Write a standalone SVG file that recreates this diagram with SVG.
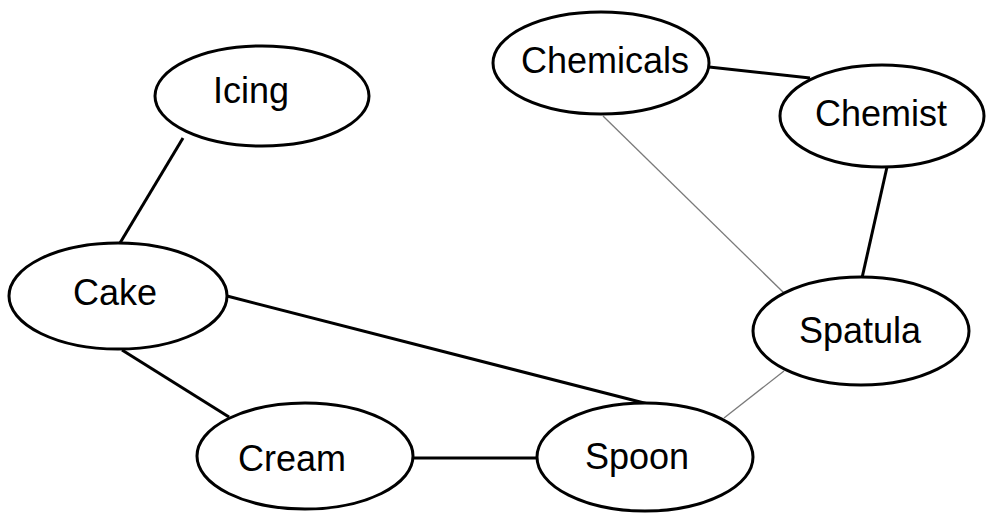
<svg xmlns="http://www.w3.org/2000/svg" width="987" height="513" viewBox="0 0 987 513">
  <style>
    .node ellipse { fill: #ffffff; stroke: #000000; stroke-width: 3; }
    .node text { font-family: "Liberation Sans", Arial, sans-serif; font-size: 36px; fill: #000000; text-anchor: middle; }
    .edge { stroke: #000000; stroke-width: 3; fill: none; }
    .edge.weak { stroke: #7a7a7a; stroke-width: 1.3; }
  </style>
  <rect width="987" height="513" fill="#ffffff"/>

  <!-- connectors -->
  <g id="connectors">
    <line class="edge" x1="183" y1="138" x2="120" y2="243"/>
    <line class="edge" x1="709" y1="67" x2="810" y2="78"/>
    <line class="edge" x1="887" y1="167" x2="862" y2="278"/>
    <line class="edge weak" x1="603" y1="116" x2="784" y2="293"/>
    <line class="edge" x1="227" y1="296" x2="648" y2="404"/>
    <line class="edge" x1="122" y1="350" x2="229" y2="417"/>
    <line class="edge" x1="413" y1="458" x2="538" y2="458"/>
    <line class="edge weak" x1="784" y1="371" x2="724" y2="418"/>
  </g>

  <!-- nodes -->
  <g id="node-icing" class="node">
    <ellipse cx="262" cy="96" rx="107" ry="50"/>
    <text x="251" y="103">Icing</text>
  </g>
  <g id="node-chemicals" class="node">
    <ellipse cx="601" cy="63" rx="108" ry="51"/>
    <text x="605" y="73">Chemicals</text>
  </g>
  <g id="node-chemist" class="node">
    <ellipse cx="882" cy="116" rx="102" ry="51"/>
    <text x="881" y="126">Chemist</text>
  </g>
  <g id="node-cake" class="node">
    <ellipse cx="118" cy="296" rx="109" ry="53"/>
    <text x="115" y="305">Cake</text>
  </g>
  <g id="node-spatula" class="node">
    <ellipse cx="861" cy="331" rx="108" ry="54"/>
    <text x="860" y="343">Spatula</text>
  </g>
  <g id="node-cream" class="node">
    <ellipse cx="305" cy="456" rx="108" ry="53"/>
    <text x="292" y="471">Cream</text>
  </g>
  <g id="node-spoon" class="node">
    <ellipse cx="645" cy="457" rx="108" ry="54"/>
    <text x="637" y="469">Spoon</text>
  </g>
</svg>
